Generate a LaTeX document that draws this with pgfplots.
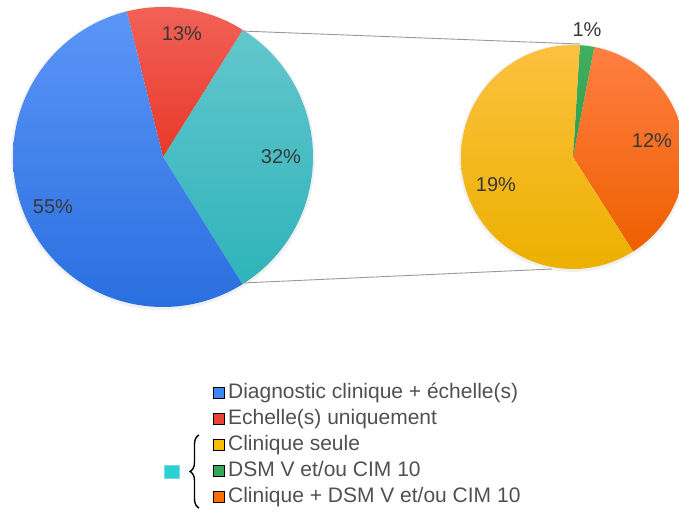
\documentclass[border=0pt]{standalone}
\usepackage{pgfplots}
\pgfplotsset{compat=1.18}
\usepackage{fontspec}
\setmainfont{Liberation Sans}
\usetikzlibrary{decorations.pathreplacing}
\definecolor{blueT}{HTML}{5B95F7}\definecolor{blueB}{HTML}{2A6FE0}\definecolor{blueM}{HTML}{3F85F4}
\definecolor{redT}{HTML}{F26157}\definecolor{redB}{HTML}{E8392A}\definecolor{redM}{HTML}{EA4335}
\definecolor{tealT}{HTML}{62C7CC}\definecolor{tealB}{HTML}{2FB3BB}
\definecolor{yelT}{HTML}{FCC13F}\definecolor{yelB}{HTML}{ECB000}\definecolor{yelM}{HTML}{FBBC05}
\definecolor{oraT}{HTML}{FF7F42}\definecolor{oraB}{HTML}{EE5F00}\definecolor{oraM}{HTML}{FF6D01}
\definecolor{greT}{HTML}{40B060}\definecolor{greB}{HTML}{2E9E4C}\definecolor{greM}{HTML}{34A853}
\definecolor{grpsq}{HTML}{2ACFCF}\definecolor{grpbd}{HTML}{7ED6F5}
\definecolor{lbl}{HTML}{383838}\definecolor{legtxt}{HTML}{505050}
% data (percent of total)
\def\pBlue{55}\def\pRed{12.8}\def\pTeal{32.2}
\def\pYel{19.2}\def\pGreen{0.66}\def\pOra{12.14}
\pgfmathsetmacro\aA{-58}
\pgfmathsetmacro\aB{\aA+3.6*\pTeal}
\pgfmathsetmacro\aC{\aB+3.6*\pRed}
\pgfmathsetmacro\aD{\aC+3.6*\pBlue}
\pgfmathsetmacro\sumR{\pYel+\pGreen+\pOra}
\pgfmathsetmacro\bA{-57.5}
\pgfmathsetmacro\bB{\bA+360*\pOra/\sumR}
\pgfmathsetmacro\bC{\bB+360*\pGreen/\sumR}
\pgfmathsetmacro\bD{\bC+360*\pYel/\sumR}
\newcommand{\pieslice}[7]{%
  \addplot[draw=none, top color=#6, bottom color=#7, domain=#4:#5, samples=100, variable=\t, forget plot]
   ({#1+#3*cos(\t)},{#2+#3*sin(\t)}) -- (axis cs:#1,#2) -- cycle;}
\begin{document}
\begin{tikzpicture}
\begin{axis}[scale only axis, width=679bp, height=512bp,
  xmin=0, xmax=679, ymin=0, ymax=512, axis lines=none, ticks=none, clip=true,
  legend image code/.code={\fill[#1] (0bp,-5bp) rectangle (10.5bp,5.5bp);},
  legend cell align=left,
  legend style={at={(axis cs:210,134)}, anchor=north west, draw=none, fill=none,
    font=\fontsize{21bp}{24bp}\selectfont, text=legtxt, row sep=0bp,
    nodes={text height=14.5bp, text depth=4.5bp, inner ysep=3.5bp, inner xsep=1.5bp},
    /tikz/every odd column/.append style={column sep=2.5bp}},
]
% soft shadows
\addplot[draw=none, fill=black, fill opacity=0.06, domain=0:360, samples=120, variable=\t, forget plot]
  ({163+152*cos(\t)},{354+152*sin(\t)});
\addplot[draw=none, fill=black, fill opacity=0.06, domain=0:360, samples=120, variable=\t, forget plot]
  ({573+114*cos(\t)},{354+114*sin(\t)});
% left pie
\pieslice{163}{355}{150}{\aA}{\aB}{tealT}{tealB}
\pieslice{163}{355}{150}{\aB}{\aC}{redT}{redB}
\pieslice{163}{355}{150}{\aC}{\aD}{blueT}{blueB}
% right pie
\pieslice{573}{355}{112}{\bA}{\bB}{oraT}{oraB}
\pieslice{573}{355}{112}{\bB}{\bC}{greT}{greB}
\pieslice{573}{355}{112}{\bC}{\bD}{yelT}{yelB}
% connector lines
\addplot[color=black!40, line width=0.9bp, forget plot] coordinates {(241,481) (580,468)};
\addplot[color=black!40, line width=0.9bp, forget plot] coordinates {(242,229) (552,243)};
% labels
\node[font=\fontsize{20bp}{24bp}\selectfont, text=lbl] at (axis cs:182,478) {13\%};
\node[font=\fontsize{20bp}{24bp}\selectfont, text=lbl] at (axis cs:281,355) {32\%};
\node[font=\fontsize{20bp}{24bp}\selectfont, text=lbl] at (axis cs:53,305) {55\%};
\node[font=\fontsize{20bp}{24bp}\selectfont, text=lbl] at (axis cs:587,482) {1\%};
\node[font=\fontsize{20bp}{24bp}\selectfont, text=lbl] at (axis cs:652,371) {12\%};
\node[font=\fontsize{20bp}{24bp}\selectfont, text=lbl] at (axis cs:496,327) {19\%};
% legend
\addlegendimage{fill=blueM}\addlegendentry{Diagnostic clinique + échelle(s)}
\addlegendimage{fill=redM}\addlegendentry{Echelle(s) uniquement}
\addlegendimage{fill=yelM}\addlegendentry{Clinique seule}
\addlegendimage{fill=greM}\addlegendentry{DSM V et/ou CIM 10}
\addlegendimage{fill=oraM}\addlegendentry{Clinique + DSM V et/ou CIM 10}
% group marker and brace
\node[fill=grpsq, draw=grpbd, line width=1.2bp, minimum width=15bp, minimum height=13bp, inner sep=0pt] at (axis cs:172,40) {};
\draw[black, line width=1.4bp, decorate, decoration={brace, amplitude=9bp}] (axis cs:199,4) -- (axis cs:199,77);
\end{axis}
\path[use as bounding box] (current axis.south west) rectangle (current axis.north east);
\end{tikzpicture}
\end{document}
